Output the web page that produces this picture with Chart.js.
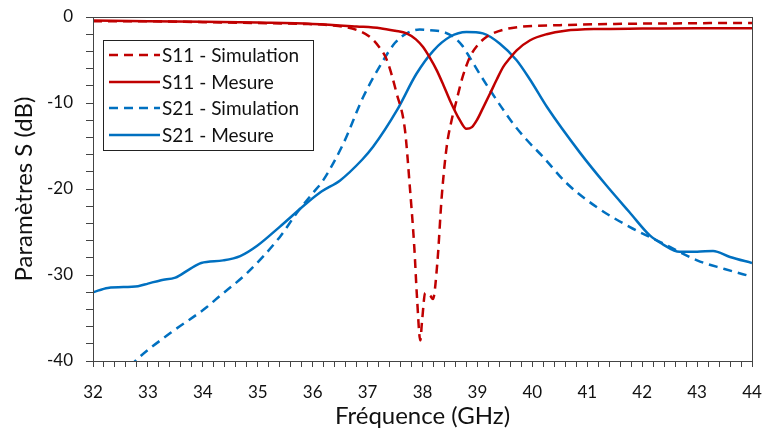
<!DOCTYPE html>
<html>
<head>
<meta charset="utf-8">
<script src="https://cdn.jsdelivr.net/npm/chart.js@4/dist/chart.umd.min.js"></script>
<style>
  html, body { margin: 0; padding: 0; background: #fff; }
  #wrap { width: 764px; height: 430px; }
</style>
</head>
<body>
<div id="wrap"><canvas id="s-chart" width="764" height="430"></canvas></div>
<script>
// Frequencies (GHz) and S-parameters (dB)
const s11SimFreq = [32, 33, 34, 35, 35.8, 36.3, 36.8, 37.04, 37.2, 37.35, 37.53, 37.68, 37.77, 37.85, 37.9, 37.96, 37.99, 38.05, 38.14, 38.19, 38.27, 38.35, 38.44, 38.53, 38.62, 38.72, 38.86, 39.0, 39.17, 39.6, 40.5, 41.5, 42.5, 43.5, 44];
const s11SimDb = [-0.5, -0.5, -0.6, -0.7, -0.8, -0.95, -1.5, -2.3, -3.4, -5, -8.9, -13.1, -19.8, -26.7, -32.6, -37.6, -35.5, -32.1, -32.4, -32.8, -28.6, -20.9, -15.1, -12, -9.7, -7.2, -4.7, -3.3, -2.3, -1.3, -0.95, -0.8, -0.75, -0.7, -0.7];

const s11MesFreq = [32, 33, 34, 35, 36, 36.8, 37.23, 37.5, 37.71, 37.88, 38.01, 38.13, 38.26, 38.38, 38.5, 38.68, 38.8, 38.9, 38.99, 39.1, 39.23, 39.35, 39.47, 39.59, 39.71, 39.96, 40.26, 40.6, 41.17, 42, 43, 44];
const s11MesDb = [-0.4, -0.5, -0.55, -0.65, -0.8, -1.1, -1.3, -1.6, -1.9, -2.6, -3.5, -4.7, -6.2, -7.9, -9.7, -12, -13, -12.8, -12, -10.6, -8.9, -7.3, -5.8, -4.8, -3.9, -2.7, -2.0, -1.6, -1.4, -1.35, -1.3, -1.3];

const s21SimFreq = [32.5, 32.77, 33.42, 34.08, 34.26, 34.8, 35.4, 35.71, 36.0, 36.19, 36.56, 36.92, 37.29, 37.5, 37.71, 37.95, 38.14, 38.36, 38.56, 38.72, 38.86, 39.03, 39.23, 39.45, 39.65, 39.9, 40.2, 40.62, 41.17, 41.77, 42.37, 43, 43.5, 44];
const s21SimDb = [-42, -40, -36.7, -33.7, -32.7, -29.8, -25.6, -22.8, -20.5, -19, -14.7, -9.3, -5.0, -3.0, -1.9, -1.45, -1.55, -1.7, -2.3, -3.3, -4.7, -6.5, -8.5, -10.6, -12.4, -14.3, -16.3, -19.3, -22.1, -24.4, -26.3, -28.3, -29.3, -30.2];

const s21MesFreq = [32, 32.27, 32.82, 33.0, 33.24, 33.5, 33.74, 33.97, 34.37, 34.68, 34.99, 35.4, 35.9, 36.16, 36.5, 36.9, 37.1, 37.53, 37.89, 38.2, 38.5, 38.8, 39.1, 39.41, 39.71, 39.96, 40.27, 40.87, 41.35, 41.77, 42.14, 42.37, 42.68, 43.0, 43.29, 43.6, 44];
const s21MesDb = [-32, -31.5, -31.3, -31, -30.6, -30.3, -29.4, -28.6, -28.3, -27.8, -26.6, -24.4, -21.6, -20.3, -19, -16.6, -15.1, -10.9, -6.6, -3.9, -2.3, -1.74, -1.9, -3.1, -5.0, -7.3, -10.5, -15.8, -19.6, -22.7, -25.4, -26.4, -27.3, -27.3, -27.2, -27.9, -28.6];

const seriesLabels = ["S11 - Simulation", "S11 - Mesure", "S21 - Simulation", "S21 - Mesure"];
const xTitle = "Fréquence (GHz)";
const yTitle = "Paramètres S (dB)";

const RED = "#C00000";
const BLUE = "#0070C0";
const FONT = "Lato, 'Open Sans', sans-serif";

function pts(fs, ds) {
  return fs.map((f, i) => ({ x: f, y: ds[i] }));
}

function makeSet(label, fs, ds, color, dashed) {
  return {
    label: label,
    data: pts(fs, ds),
    borderColor: color,
    borderWidth: 2.5,
    borderDash: dashed ? [9, 6] : [],
    pointRadius: 0,
    fill: false,
    cubicInterpolationMode: "monotone",
  };
}

// Legend box drawn inside the plot, plus a frame round the plot area
const framePlugin = {
  id: "frame",
  afterDraw(chart) {
    const { ctx, chartArea: a } = chart;
    ctx.save();
    ctx.strokeStyle = "#444";
    ctx.lineWidth = 1;
    ctx.strokeRect(a.left + 0.5, a.top + 0.5, a.right - a.left, a.bottom - a.top);

    // legend
    const bx = 103, by = 40, bw = 210, bh = 110;
    ctx.fillStyle = "#fff";
    ctx.fillRect(bx, by, bw, bh);
    ctx.strokeStyle = "#222";
    ctx.strokeRect(bx + 0.5, by + 0.5, bw, bh);
    const rows = [55, 82, 108, 135];
    chart.data.datasets.forEach((ds, i) => {
      const y = rows[i];
      ctx.beginPath();
      ctx.setLineDash(ds.borderDash);
      ctx.strokeStyle = ds.borderColor;
      ctx.lineWidth = 2.5;
      ctx.moveTo(109, y);
      ctx.lineTo(160, y);
      ctx.stroke();
      ctx.setLineDash([]);
      ctx.fillStyle = "#111";
      ctx.font = "19px " + FONT;
      ctx.textBaseline = "middle";
      ctx.fillText(ds.label, 162, y + 1);
    });
    ctx.restore();
  },
};

const ctx = document.getElementById("s-chart").getContext("2d");
const chart = new Chart(ctx, {
  type: "line",
  data: {
    datasets: [
      makeSet(seriesLabels[0], s11SimFreq, s11SimDb, RED, true),
      makeSet(seriesLabels[1], s11MesFreq, s11MesDb, RED, false),
      makeSet(seriesLabels[2], s21SimFreq, s21SimDb, BLUE, true),
      makeSet(seriesLabels[3], s21MesFreq, s21MesDb, BLUE, false),
    ],
  },
  options: {
    responsive: false,
    animation: false,
    layout: { padding: { left: 0, right: 12, top: 17, bottom: 0 } },
    plugins: {
      legend: { display: false },
      tooltip: { enabled: false },
    },
    scales: {
      x: {
        type: "linear",
        min: 32,
        max: 44,
        afterFit(scale) {
          scale.height = 69;
          scale.paddingLeft = 0;
          scale.paddingRight = 0;
        },
        ticks: {
          stepSize: 0.2,
          autoSkip: false,
          maxRotation: 0,
          color: "#111",
          font: { family: FONT, size: 17 },
          padding: 15,
          callback(v) {
            return Math.abs(v - Math.round(v)) < 1e-6 ? String(Math.round(v)) : "";
          },
        },
        grid: { drawOnChartArea: false, tickLength: 6, color: "#444" },
        border: { color: "#444" },
        title: {
          display: true,
          text: xTitle,
          color: "#111",
          font: { family: FONT, size: 24 },
          padding: { top: 0, bottom: -1 },
        },
      },
      y: {
        min: -40,
        max: 0,
        afterFit(scale) {
          scale.width = 93;
          scale.paddingTop = 0;
          scale.paddingBottom = 0;
        },
        ticks: {
          stepSize: 2,
          autoSkip: false,
          color: "#111",
          font: { family: FONT, size: 17 },
          padding: 13,
          callback(v) {
            return Math.round(v) % 10 === 0 ? String(Math.round(v)) : "";
          },
        },
        grid: { drawOnChartArea: false, tickLength: 7, color: "#444" },
        border: { color: "#444" },
        title: {
          display: true,
          text: yTitle,
          color: "#111",
          font: { family: FONT, size: 24 },
          padding: { top: 10, bottom: 0 },
        },
      },
    },
  },
  plugins: [framePlugin],
});
</script>
</body>
</html>
